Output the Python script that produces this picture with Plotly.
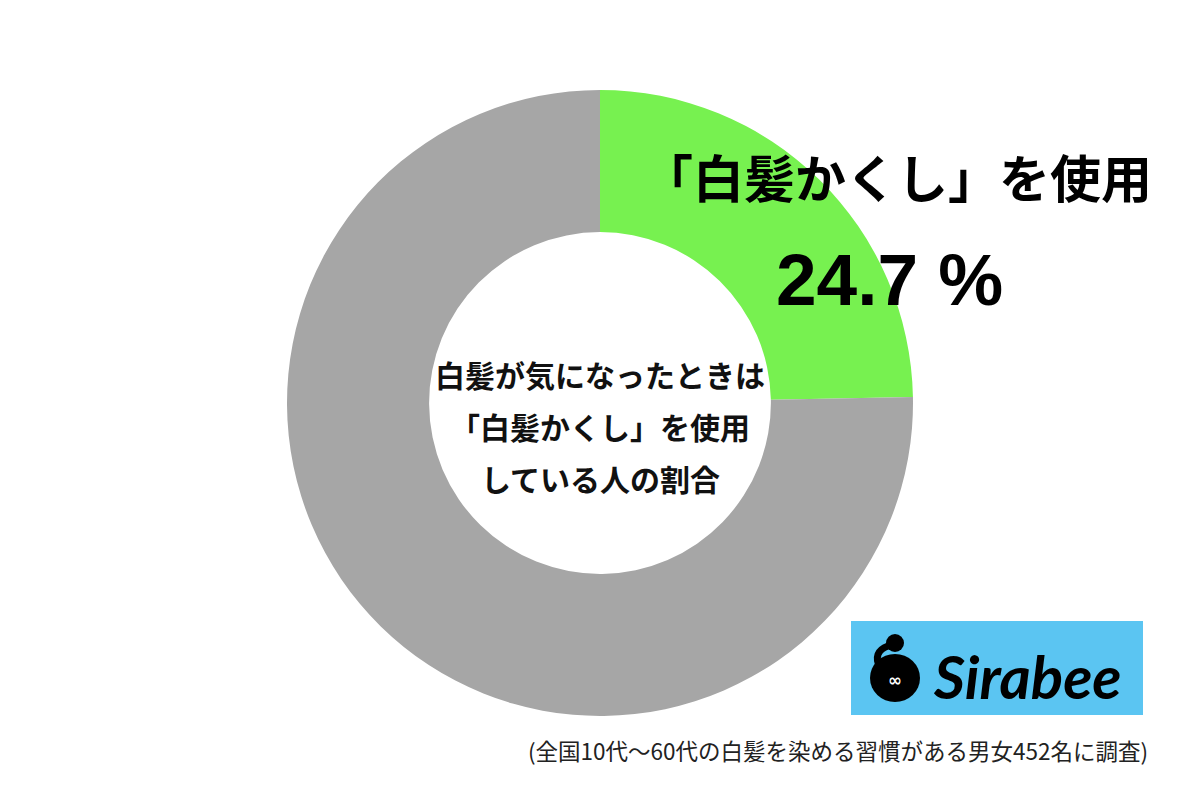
import plotly.graph_objects as go

labels = ["「白髪かくし」を使用", "その他"]
values = [24.7, 75.3]
colors = ["#77F150", "#A6A6A6"]
center_lines = ["白髪が気になったときは", "「白髪かくし」を使用", "している人の割合"]
note = "(全国10代～60代の白髪を染める習慣がある男女452名に調査)"

W, H = 1200, 800
OFF = 8  # page body margin


def px(x):
    return (x - OFF) / W


def py(y):
    return 1 - (y - OFF) / H


cx, cy, r = 600, 403, 313

fig = go.Figure(go.Pie(
    labels=labels, values=values, hole=0.546, sort=False, direction="clockwise",
    rotation=0, marker=dict(colors=colors, line=dict(width=0)),
    textinfo="none", hoverinfo="label+percent", showlegend=False,
    domain=dict(x=[px(cx - r), px(cx + r)], y=[py(cy + r), py(cy - r)]),
))

jp = "Noto Sans CJK JP"
ann = []
ann.append(dict(x=px(897), y=py(176), text="<b>" + labels[0] + "</b>",
                font=dict(family=jp, size=51, color="#000")))
ann.append(dict(x=px(889), y=py(279), text="<b>%.1f %%</b>" % values[0],
                font=dict(family="Liberation Sans, Arial", size=73, color="#000")))
for i, line in enumerate(center_lines):
    ann.append(dict(x=px(600), y=py(374 + 52 * i), text="<b>" + line + "</b>",
                    font=dict(family=jp, size=30, color="#111")))
ann.append(dict(x=px(1150), y=py(750), text=note, xanchor="right",
                font=dict(family=jp, size=22.5, color="#222")))
# logo text
ann.append(dict(x=px(1027), y=py(676), text="<b><i>Sirabee</i></b>",
                font=dict(family="Lato, Roboto", size=60, color="#000", weight=900)))
ann.append(dict(x=px(895), y=py(680), text="<b>∞</b>",
                font=dict(family="DejaVu Sans", size=17, color="#fff")))
for a in ann:
    a.setdefault("xanchor", "center")
    a.update(xref="paper", yref="paper", yanchor="middle", showarrow=False)

shapes = [
    dict(type="rect", xref="paper", yref="paper", x0=px(851), x1=px(1143),
         y0=py(715), y1=py(621), fillcolor="#5BC5F2", line=dict(width=0), layer="below"),
    dict(type="circle", xref="paper", yref="paper", x0=px(870), x1=px(920),
         y0=py(702), y1=py(654), fillcolor="#000", line=dict(width=0)),
    dict(type="circle", xref="paper", yref="paper", x0=px(886), x1=px(904),
         y0=py(652), y1=py(634), fillcolor="#000", line=dict(width=0)),
    dict(type="path", xref="paper", yref="paper",
         path="M %f %f Q %f %f %f %f" % (px(888), py(646), px(872), py(652), px(880), py(668)),
         line=dict(color="#000", width=7)),
]

fig.update_layout(width=W, height=H, margin=dict(l=0, r=0, t=0, b=0),
                  paper_bgcolor="#fff", plot_bgcolor="#fff",
                  annotations=ann, shapes=shapes)
fig.write_html("out.html")
